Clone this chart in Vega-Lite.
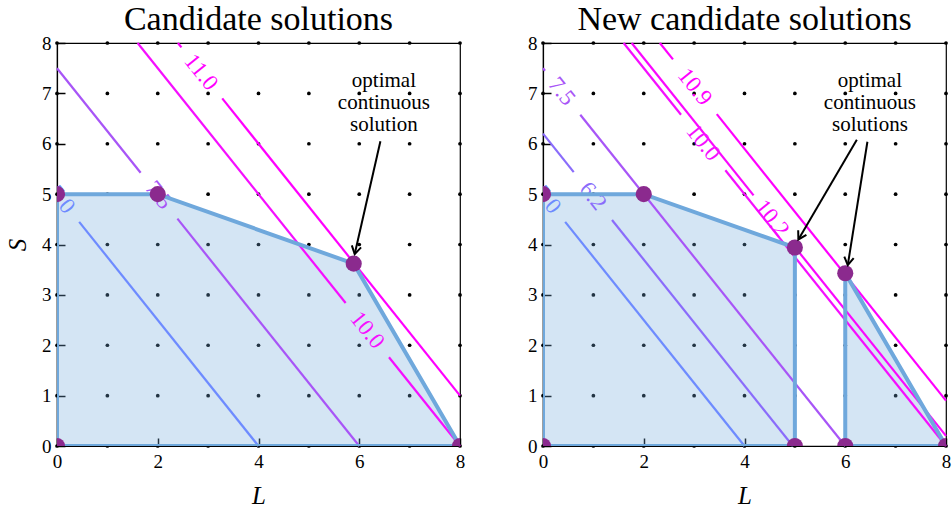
{
  "$schema": "https://vega.github.io/schema/vega-lite/v6.json",
  "padding": {"left": 4, "top": 2, "right": 0, "bottom": 0},
  "spacing": 60,
  "datasets": {
    "dots": [
      {"L":0,"S":0},{"L":0,"S":1},{"L":0,"S":2},{"L":0,"S":3},{"L":0,"S":4},{"L":0,"S":5},{"L":0,"S":6},{"L":0,"S":7},{"L":0,"S":8},
      {"L":1,"S":0},{"L":1,"S":1},{"L":1,"S":2},{"L":1,"S":3},{"L":1,"S":4},{"L":1,"S":5},{"L":1,"S":6},{"L":1,"S":7},{"L":1,"S":8},
      {"L":2,"S":0},{"L":2,"S":1},{"L":2,"S":2},{"L":2,"S":3},{"L":2,"S":4},{"L":2,"S":5},{"L":2,"S":6},{"L":2,"S":7},{"L":2,"S":8},
      {"L":3,"S":0},{"L":3,"S":1},{"L":3,"S":2},{"L":3,"S":3},{"L":3,"S":4},{"L":3,"S":5},{"L":3,"S":6},{"L":3,"S":7},{"L":3,"S":8},
      {"L":4,"S":0},{"L":4,"S":1},{"L":4,"S":2},{"L":4,"S":3},{"L":4,"S":4},{"L":4,"S":5},{"L":4,"S":6},{"L":4,"S":7},{"L":4,"S":8},
      {"L":5,"S":0},{"L":5,"S":1},{"L":5,"S":2},{"L":5,"S":3},{"L":5,"S":4},{"L":5,"S":5},{"L":5,"S":6},{"L":5,"S":7},{"L":5,"S":8},
      {"L":6,"S":0},{"L":6,"S":1},{"L":6,"S":2},{"L":6,"S":3},{"L":6,"S":4},{"L":6,"S":5},{"L":6,"S":6},{"L":6,"S":7},{"L":6,"S":8},
      {"L":7,"S":0},{"L":7,"S":1},{"L":7,"S":2},{"L":7,"S":3},{"L":7,"S":4},{"L":7,"S":5},{"L":7,"S":6},{"L":7,"S":7},{"L":7,"S":8},
      {"L":8,"S":0},{"L":8,"S":1},{"L":8,"S":2},{"L":8,"S":3},{"L":8,"S":4},{"L":8,"S":5},{"L":8,"S":6},{"L":8,"S":7},{"L":8,"S":8}
    ],
    "contours": [
      {"panel":"a","lvl":"5.0","seg":"a5","L":0.44,"S":4.45},{"panel":"a","lvl":"5.0","seg":"a5","L":4,"S":0},
      {"panel":"a","lvl":"7.5","seg":"a75-1","L":0,"S":7.5},{"panel":"a","lvl":"7.5","seg":"a75-1","L":1.66,"S":5.425},
      {"panel":"a","lvl":"7.5","seg":"a75-2","L":2.39,"S":4.5125},{"panel":"a","lvl":"7.5","seg":"a75-2","L":6,"S":0},
      {"panel":"a","lvl":"10.0","seg":"a10-1","L":1.6,"S":8},{"panel":"a","lvl":"10.0","seg":"a10-1","L":5.73,"S":2.8375},
      {"panel":"a","lvl":"10.0","seg":"a10-2","L":6.59,"S":1.7625},{"panel":"a","lvl":"10.0","seg":"a10-2","L":8,"S":0},
      {"panel":"a","lvl":"11.0","seg":"a11-1","L":2.4,"S":8},{"panel":"a","lvl":"11.0","seg":"a11-1","L":2.47,"S":7.9125},
      {"panel":"a","lvl":"11.0","seg":"a11-2","L":3.28,"S":6.9},{"panel":"a","lvl":"11.0","seg":"a11-2","L":8,"S":1},
      {"panel":"b","lvl":"5.0","seg":"b5","L":0.44,"S":4.45},{"panel":"b","lvl":"5.0","seg":"b5","L":4,"S":0},
      {"panel":"b","lvl":"6.2","seg":"b62-1","L":0,"S":6.2},{"panel":"b","lvl":"6.2","seg":"b62-1","L":0.61,"S":5.4375},
      {"panel":"b","lvl":"6.2","seg":"b62-2","L":1.37,"S":4.4875},{"panel":"b","lvl":"6.2","seg":"b62-2","L":4.96,"S":0},
      {"panel":"b","lvl":"7.5","seg":"b75-1","L":0,"S":7.5},{"panel":"b","lvl":"7.5","seg":"b75-1","L":0.04,"S":7.45},
      {"panel":"b","lvl":"7.5","seg":"b75-2","L":0.74,"S":6.575},{"panel":"b","lvl":"7.5","seg":"b75-2","L":6,"S":0},
      {"panel":"b","lvl":"10.0","seg":"b10-1","L":1.6,"S":8},{"panel":"b","lvl":"10.0","seg":"b10-1","L":2.74,"S":6.575},
      {"panel":"b","lvl":"10.0","seg":"b10-2","L":3.62,"S":5.475},{"panel":"b","lvl":"10.0","seg":"b10-2","L":8,"S":0},
      {"panel":"b","lvl":"10.2","seg":"b102-1","L":1.76,"S":8},{"panel":"b","lvl":"10.2","seg":"b102-1","L":4.18,"S":4.975},
      {"panel":"b","lvl":"10.2","seg":"b102-2","L":4.91,"S":4.0625},{"panel":"b","lvl":"10.2","seg":"b102-2","L":8,"S":0.2},
      {"panel":"b","lvl":"10.9","seg":"b109-1","L":2.32,"S":8},{"panel":"b","lvl":"10.9","seg":"b109-1","L":2.58,"S":7.675},
      {"panel":"b","lvl":"10.9","seg":"b109-2","L":3.45,"S":6.5875},{"panel":"b","lvl":"10.9","seg":"b109-2","L":8,"S":0.9}
    ],
    "labels": [
      {"panel":"a","lvl":"5.0","L":0.09,"S":4.89},
      {"panel":"a","lvl":"7.5","L":2.02,"S":4.98},
      {"panel":"a","lvl":"10.0","L":6.16,"S":2.3},
      {"panel":"a","lvl":"11.0","L":2.86,"S":7.42},
      {"panel":"b","lvl":"5.0","L":0.09,"S":4.89},
      {"panel":"b","lvl":"6.2","L":0.99,"S":4.96},
      {"panel":"b","lvl":"7.5","L":0.37,"S":7.04},
      {"panel":"b","lvl":"10.0","L":3.18,"S":6.025},
      {"panel":"b","lvl":"10.2","L":4.545,"S":4.52},
      {"panel":"b","lvl":"10.9","L":3.015,"S":7.13}
    ],
    "fill": [
      {"panel":"a","part":"a1","L":0,"S":5},{"panel":"a","part":"a1","L":2,"S":5},{"panel":"a","part":"a1","L":5.89,"S":3.62},{"panel":"a","part":"a1","L":8,"S":0},
      {"panel":"b","part":"b1","L":0,"S":5},{"panel":"b","part":"b1","L":2,"S":5},{"panel":"b","part":"b1","L":5,"S":3.94},
      {"panel":"b","part":"b2","L":6,"S":3.43},{"panel":"b","part":"b2","L":8,"S":0}
    ],
    "outline": [
      {"panel":"a","part":"a1","ord":1,"L":0,"S":0},{"panel":"a","part":"a1","ord":2,"L":0,"S":5},{"panel":"a","part":"a1","ord":3,"L":2,"S":5},
      {"panel":"a","part":"a1","ord":4,"L":5.89,"S":3.62},{"panel":"a","part":"a1","ord":5,"L":8,"S":0},{"panel":"a","part":"a1","ord":6,"L":0,"S":0},
      {"panel":"b","part":"b1","ord":1,"L":0,"S":0},{"panel":"b","part":"b1","ord":2,"L":0,"S":5},{"panel":"b","part":"b1","ord":3,"L":2,"S":5},
      {"panel":"b","part":"b1","ord":4,"L":5,"S":3.94},{"panel":"b","part":"b1","ord":5,"L":5,"S":0},{"panel":"b","part":"b1","ord":6,"L":0,"S":0},
      {"panel":"b","part":"b2","ord":1,"L":6,"S":0},{"panel":"b","part":"b2","ord":2,"L":6,"S":3.43},{"panel":"b","part":"b2","ord":3,"L":8,"S":0},{"panel":"b","part":"b2","ord":4,"L":6,"S":0}
    ],
    "points": [
      {"panel":"a","L":0,"S":5},{"panel":"a","L":2,"S":5},{"panel":"a","L":5.89,"S":3.62},{"panel":"a","L":0,"S":0},{"panel":"a","L":8,"S":0},
      {"panel":"b","L":0,"S":5},{"panel":"b","L":2,"S":5},{"panel":"b","L":5,"S":3.94},{"panel":"b","L":6,"S":3.43},
      {"panel":"b","L":0,"S":0},{"panel":"b","L":5,"S":0},{"panel":"b","L":6,"S":0},{"panel":"b","L":8,"S":0}
    ],
    "arrows": [
      {"panel":"a","id":"a1","ord":1,"L":6.42,"S":6.05},{"panel":"a","id":"a1","ord":2,"L":5.91,"S":3.81},
      {"panel":"b","id":"b1","ord":1,"L":6.23,"S":6.08},{"panel":"b","id":"b1","ord":2,"L":5.07,"S":4.1},
      {"panel":"b","id":"b2","ord":1,"L":6.44,"S":6.04},{"panel":"b","id":"b2","ord":2,"L":6.05,"S":3.59}
    ],
    "notes": [
      {"panel":"a","txt":"optimal\ncontinuous\nsolution","L":6.49,"S":7.24},
      {"panel":"b","txt":"optimal\ncontinuous\nsolutions","L":6.49,"S":7.24}
    ]
  },
  "hconcat": [
    {
      "width": 403, "height": 403,
      "title": "Candidate solutions",
      "encoding": {
        "x": {"field":"L","type":"quantitative","scale":{"domain":[0,8],"nice":false},"axis":{"values":[0,2,4,6,8],"title":"L"}},
        "y": {"field":"S","type":"quantitative","scale":{"domain":[0,8],"nice":false},"axis":{"values":[0,1,2,3,4,5,6,7,8],"title":"S"}}
      },
      "layer": [
        {"data":{"name":"dots"},"mark":{"type":"circle","size":14,"color":"black","opacity":1}},
        {"data":{"name":"fill"},"transform":[{"filter":"datum.panel==='a'"}],"mark":{"type":"area","color":"#6fa8dc","opacity":0.3},"encoding":{"y2":{"datum":0},"detail":{"field":"part"}}},
        {"data":{"name":"contours"},"transform":[{"filter":"datum.panel==='a'"}],"mark":{"type":"line","strokeWidth":2.2},"encoding":{"color":{"field":"lvl","type":"nominal","legend":null,"scale":{"domain":["5.0","6.2","7.5","10.0","10.2","10.9","11.0"],"range":["#6e8bff","#8a6cfb","#a855f7","#f50fff","#fa08ff","#ff00ff","#ff00ff"]}},"detail":{"field":"seg"}}},
        {"data":{"name":"labels"},"transform":[{"filter":"datum.panel==='a'"}],"mark":{"type":"text","angle":51.3,"fontSize":23,"font":"Liberation Serif","clip":true,"align":"center","baseline":"middle"},"encoding":{"text":{"field":"lvl"},"color":{"field":"lvl","type":"nominal","legend":null}}},
        {"data":{"name":"outline"},"transform":[{"filter":"datum.panel==='a'"}],"mark":{"type":"line","color":"#6fa8dc","strokeWidth":4,"clip":true},"encoding":{"order":{"field":"ord"},"detail":{"field":"part"}}},
        {"data":{"name":"points"},"transform":[{"filter":"datum.panel==='a'"}],"mark":{"type":"circle","size":260,"color":"#8b2a8e","opacity":1,"clip":true}},
        {"data":{"name":"arrows"},"transform":[{"filter":"datum.panel==='a'"}],"mark":{"type":"line","color":"black","strokeWidth":2},"encoding":{"order":{"field":"ord"},"detail":{"field":"id"}}},
        {"data":{"name":"arrows"},"transform":[{"filter":"datum.id==='a1' && datum.ord===2"}],"mark":{"type":"point","shape":"M -0.6 -1 L 0 0 L 0.6 -1","filled":false,"color":"black","strokeWidth":2,"size":250,"opacity":1,"angle":12.6}},
        {"data":{"name":"notes"},"transform":[{"filter":"datum.panel==='a'"}],"mark":{"type":"text","fontSize":21,"font":"Liberation Serif","lineBreak":"\n","lineHeight":22,"align":"center","baseline":"middle","color":"black"},"encoding":{"text":{"field":"txt"}}}
      ]
    },
    {
      "width": 403, "height": 403,
      "title": "New candidate solutions",
      "encoding": {
        "x": {"field":"L","type":"quantitative","scale":{"domain":[0,8],"nice":false},"axis":{"values":[0,2,4,6,8],"title":"L"}},
        "y": {"field":"S","type":"quantitative","scale":{"domain":[0,8],"nice":false},"axis":{"values":[0,1,2,3,4,5,6,7,8],"title":null}}
      },
      "layer": [
        {"data":{"name":"dots"},"mark":{"type":"circle","size":14,"color":"black","opacity":1}},
        {"data":{"name":"fill"},"transform":[{"filter":"datum.panel==='b'"}],"mark":{"type":"area","color":"#6fa8dc","opacity":0.3},"encoding":{"y2":{"datum":0},"detail":{"field":"part"}}},
        {"data":{"name":"contours"},"transform":[{"filter":"datum.panel==='b'"}],"mark":{"type":"line","strokeWidth":2.2},"encoding":{"color":{"field":"lvl","type":"nominal","legend":null,"scale":{"domain":["5.0","6.2","7.5","10.0","10.2","10.9","11.0"],"range":["#6e8bff","#8a6cfb","#a855f7","#f50fff","#fa08ff","#ff00ff","#ff00ff"]}},"detail":{"field":"seg"}}},
        {"data":{"name":"labels"},"transform":[{"filter":"datum.panel==='b'"}],"mark":{"type":"text","angle":51.3,"fontSize":23,"font":"Liberation Serif","clip":true,"align":"center","baseline":"middle"},"encoding":{"text":{"field":"lvl"},"color":{"field":"lvl","type":"nominal","legend":null}}},
        {"data":{"name":"outline"},"transform":[{"filter":"datum.panel==='b'"}],"mark":{"type":"line","color":"#6fa8dc","strokeWidth":4,"clip":true},"encoding":{"order":{"field":"ord"},"detail":{"field":"part"}}},
        {"data":{"name":"points"},"transform":[{"filter":"datum.panel==='b'"}],"mark":{"type":"circle","size":260,"color":"#8b2a8e","opacity":1,"clip":true}},
        {"data":{"name":"arrows"},"transform":[{"filter":"datum.panel==='b'"}],"mark":{"type":"line","color":"black","strokeWidth":2},"encoding":{"order":{"field":"ord"},"detail":{"field":"id"}}},
        {"data":{"name":"arrows"},"transform":[{"filter":"datum.id==='b1' && datum.ord===2"}],"mark":{"type":"point","shape":"M -0.6 -1 L 0 0 L 0.6 -1","filled":false,"color":"black","strokeWidth":2,"size":250,"opacity":1,"angle":29.6}},
        {"data":{"name":"arrows"},"transform":[{"filter":"datum.id==='b2' && datum.ord===2"}],"mark":{"type":"point","shape":"M -0.6 -1 L 0 0 L 0.6 -1","filled":false,"color":"black","strokeWidth":2,"size":250,"opacity":1,"angle":8.9}},
        {"data":{"name":"notes"},"transform":[{"filter":"datum.panel==='b'"}],"mark":{"type":"text","fontSize":21,"font":"Liberation Serif","lineBreak":"\n","lineHeight":22,"align":"center","baseline":"middle","color":"black"},"encoding":{"text":{"field":"txt"}}}
      ]
    }
  ],
  "config": {
    "font": "Liberation Serif",
    "view": {"stroke": "black", "strokeWidth": 1.2},
    "axis": {
      "domainColor": "black", "domainWidth": 1.2, "tickColor": "black", "tickWidth": 1.5, "tickSize": -8,
      "labelColor": "black", "labelFont": "Liberation Serif", "labelFontSize": 19, "labelPadding": 14, "labelFlush": false,
      "titleColor": "black", "titleFont": "Liberation Serif", "titleFontSize": 25, "titleFontStyle": "italic", "titleFontWeight": "normal",
      "grid": false
    },
    "axisY": {"titlePadding": 11},
    "axisX": {"titlePadding": 12},
    "title": {"font": "Liberation Serif", "fontSize": 34, "fontWeight": "normal", "color": "black", "offset": -3}
  }
}
